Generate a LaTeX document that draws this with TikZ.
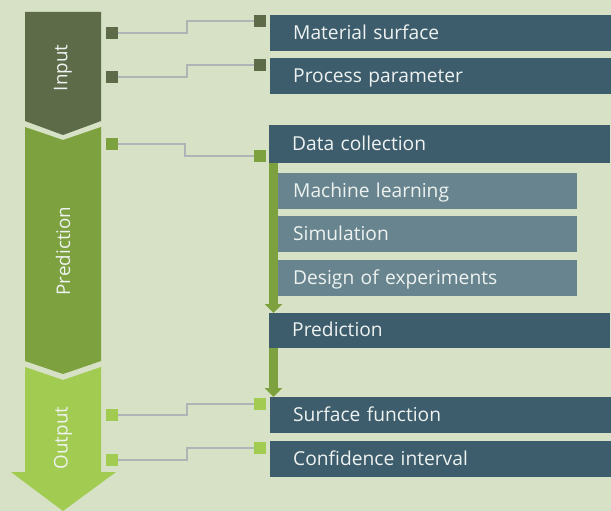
\documentclass[tikz,border=0pt]{standalone}
\usepackage{fontspec}
\setmainfont{Open Sans}
\usetikzlibrary{arrows.meta,calc}
\definecolor{bgc}{HTML}{D7E1C5}
\definecolor{inputc}{HTML}{5E6B49}
\definecolor{predc}{HTML}{7CA13E}
\definecolor{outc}{HTML}{A2CB52}
\definecolor{darkc}{HTML}{3D5D6D}
\definecolor{lightc}{HTML}{68858F}
\definecolor{linec}{HTML}{AFB4B6}
\definecolor{txtc}{HTML}{EEF2F0}
\tikzset{
  lbl/.style={font=\fontsize{19.2}{21}\selectfont, text=txtc},
  darkbox/.style={fill=darkc, anchor=north west, text width=295pt, align=left,
    inner xsep=23pt, inner ysep=0pt, text height=15pt, text depth=3pt,
    minimum height=36pt, lbl},
  lightbox/.style={darkbox, fill=lightc, text width=269pt, inner xsep=15pt},
  sq/.style={fill=#1, minimum size=12pt, inner sep=0pt, outer sep=0pt},
  conn/.style={draw=linec, line width=1.9pt},
  garrow/.style={draw=predc, line width=9pt, -{Triangle[width=17pt,length=9pt]}},
  sidelbl/.style={font=\fontsize{18.8}{20}\selectfont, text=txtc, rotate=90}
}
\begin{document}
\begin{tikzpicture}[x=1pt,y=-1pt]
\fill[bgc] (0,0) rectangle (611,511);
\useasboundingbox (0,0) rectangle (611,511);
% phase chevrons
\fill[inputc] (25,12) -- (101,12) -- (101,121) -- (63,135) -- (25,121) -- cycle;
\fill[predc] (25,127) -- (63,140) -- (101,127) -- (101,361) -- (63,374) -- (25,361) -- cycle;
\fill[outc] (25,367) -- (63,380) -- (101,367) -- (101,472) -- (116,472) -- (63,511) -- (11,472) -- (25,472) -- cycle;
\node[sidelbl] (tin) at (63,68) {Input};
\node[sidelbl] (tpred) at (63,251) {Prediction};
\node[sidelbl] (tout) at (63,438) {Output};
% boxes
\node[darkbox] (ms) at (270,15) {Material surface};
\node[darkbox] (pp) at (270,58) {Process parameter};
\node[darkbox, minimum height=38pt] (dc) at (269,125) {Data collection};
\node[lightbox] (ml) at (278,173) {Machine learning};
\node[lightbox] (sim) at (278,216) {Simulation};
\node[lightbox] (doe) at (278,260) {Design of experiments};
\node[darkbox, minimum height=35pt] (pr) at (269,313) {Prediction};
\node[darkbox] (sf) at (270,397) {Surface function};
\node[darkbox] (ci) at (270,441) {Confidence interval};
% squares
\node[sq=inputc] (a1) at (112,33) {};
\node[sq=inputc] (a2) at (112,77) {};
\node[sq=inputc] (b1) at (260,21) {};
\node[sq=inputc] (b2) at (260,65) {};
\node[sq=predc] (a3) at (112,144) {};
\node[sq=predc] (b3) at (260,156) {};
\node[sq=outc] (a4) at (112,415) {};
\node[sq=outc] (a5) at (112,460) {};
\node[sq=outc] (b4) at (260,404) {};
\node[sq=outc] (b5) at (260,448) {};
% connectors
\draw[conn] (a1.east) -- ++(69,0) |- (b1.west);
\draw[conn] (a2.east) -- ++(69,0) |- (b2.west);
\draw[conn] (a3.east) -- ++(67,0) |- (b3.west);
\draw[conn] (a4.east) -- ++(69,0) |- (b4.west);
\draw[conn] (a5.east) -- ++(69,0) |- (b5.west);
% green flow arrows
\draw[garrow] ($(dc.south west)+(4.5,0)$) -- ($(pr.north west)+(4.5,0)$);
\draw[garrow] ($(pr.south west)+(4.5,0)$) -- ($(sf.north west)+(3.5,0)$);
\end{tikzpicture}
\end{document}
